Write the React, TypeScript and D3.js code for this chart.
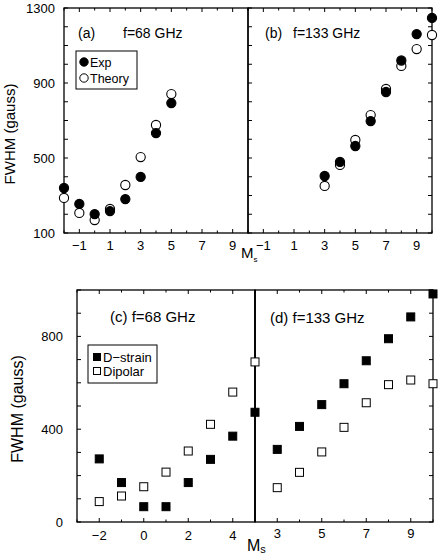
import React from "react";
import * as d3 from "d3";

// top panels (a) f=68 GHz, (b) f=133 GHz
const msA = [-2, -1, 0, 1, 2, 3, 4, 5];
const expA = [340, 255, 201, 217, 281, 399, 633, 793];
const theoryA = [287, 207, 169, 228, 356, 505, 676, 841];
const msB = [3, 4, 5, 6, 7, 8, 9, 10];
const expB = [404, 479, 564, 697, 852, 1020, 1161, 1247];
const theoryB = [351, 463, 596, 729, 868, 991, 1081, 1156];

// bottom panels (c) f=68 GHz, (d) f=133 GHz
const msC = [-2, -1, 0, 1, 2, 3, 4, 5];
const dstrainC = [272, 170, 66, 66, 170, 270, 370, 473];
const dipolarC = [88, 112, 152, 215, 306, 421, 560, 690];
const msD = [3, 4, 5, 6, 7, 8, 9, 10];
const dstrainD = [313, 412, 506, 596, 695, 790, 884, 983];
const dipolarD = [148, 214, 302, 408, 514, 592, 612, 596];

const topYTicks = [100, 500, 900, 1300];
const topXTicks = [-1, 1, 3, 5, 7, 9];
const botYTicks = [0, 400, 800];
const cXTicks = [-2, 0, 2, 4];
const dXTicks = [3, 5, 7, 9];

const FONT = "'Liberation Sans', Arial, Helvetica, sans-serif";

const yTop = d3.scaleLinear().domain([100, 1300]).range([233, 8]);
const xA = d3.scaleLinear().domain([-2, 10]).range([64, 248]);
const xB = d3.scaleLinear().domain([-2, 10]).range([248, 432]);
const yBot = d3.scaleLinear().domain([0, 1000]).range([522, 290]);
const xC = d3.scaleLinear().domain([-3, 5]).range([77, 255]);
const xD = d3.scaleLinear().domain([2, 10]).range([255, 433]);

const fmt = (v: number) => (v < 0 ? "\u2212" + Math.abs(v) : String(v));

// frame + ticks for one panel
const Frame = ({ x, y, xMajor, yStep, leftTicks, rightTicks }: any) => {
  const [x0, x1] = x.range();
  const [y0, y1] = y.range();
  const xs = d3.range(Math.ceil(x.domain()[0]), Math.floor(x.domain()[1]) + 1);
  const ys = d3.range(y.domain()[0], y.domain()[1] + 1, yStep);
  const els: any[] = [];
  xs.forEach((v, i) => {
    const len = xMajor.includes(v) ? 4 : 2.5;
    const px = x(v);
    els.push(<line key={"xb" + i} x1={px} x2={px} y1={y0} y2={y0 - len} />);
    els.push(<line key={"xt" + i} x1={px} x2={px} y1={y1} y2={y1 + len} />);
  });
  ys.forEach((v, i) => {
    const py = y(v);
    if (leftTicks) els.push(<line key={"yl" + i} x1={x0} x2={x0 + 4} y1={py} y2={py} />);
    if (rightTicks) els.push(<line key={"yr" + i} x1={x1} x2={x1 - 4} y1={py} y2={py} />);
  });
  return (
    <g stroke="#000" strokeWidth={1}>
      {els}
      <rect x={x0} y={y1} width={x1 - x0} height={y0 - y1} fill="none" strokeWidth={1.3} />
    </g>
  );
};

const Circles = ({ xs, vals, x, y, filled }: any) => (
  <g>
    {vals.map((v: number, i: number) => (
      <circle key={i} cx={x(xs[i])} cy={y(v)} r={4.6}
        fill={filled ? "#000" : "#fff"} stroke="#000" strokeWidth={1.1} />
    ))}
  </g>
);

const Squares = ({ xs, vals, x, y, filled }: any) => (
  <g>
    {vals.map((v: number, i: number) => (
      <rect key={i} x={x(xs[i]) - 4} y={y(v) - 4} width={8} height={8}
        fill={filled ? "#000" : "#fff"} stroke="#000" strokeWidth={1} />
    ))}
  </g>
);

export default function App() {
  return (
    <svg width={438} height={558} style={{ position: "absolute", left: 0, top: 0, background: "#fff" }}
      fontFamily={FONT}>
      {/* ---- top ---- */}
      <Frame x={xA} y={yTop} xMajor={topXTicks} yStep={100} leftTicks rightTicks={false} />
      <Frame x={xB} y={yTop} xMajor={topXTicks} yStep={100} leftTicks rightTicks />
      {topYTicks.map((t) => (
        <text key={t} x={55} y={yTop(t) + 5} fontSize={13} textAnchor="end">{t}</text>
      ))}
      {topXTicks.map((t) => (
        <g key={t}>
          <text x={xA(t)} y={250} fontSize={13} textAnchor="middle">{fmt(t)}</text>
          <text x={xB(t)} y={250} fontSize={13} textAnchor="middle">{fmt(t)}</text>
        </g>
      ))}
      <text x={241} y={258} fontSize={15}>M<tspan fontSize={8} dy={4}>s</tspan></text>
      <text transform="translate(15,134) rotate(-90)" fontSize={15} textAnchor="middle">FWHM (gauss)</text>

      <Circles xs={msA} vals={theoryA} x={xA} y={yTop} filled={false} />
      <Circles xs={msA} vals={expA} x={xA} y={yTop} filled />
      <Circles xs={msB} vals={theoryB} x={xB} y={yTop} filled={false} />
      <Circles xs={msB} vals={expB} x={xB} y={yTop} filled />

      <text x={78} y={38} fontSize={14}>(a)</text>
      <text x={123} y={38} fontSize={14}>f=68 GHz</text>
      <text x={265} y={38} fontSize={14}>(b)</text>
      <text x={293} y={38} fontSize={14}>f=133 GHz</text>

      <rect x={76} y={51} width={61} height={38} fill="#fff" stroke="#000" strokeWidth={1} />
      <circle cx={84} cy={62} r={4.2} fill="#000" stroke="#000" />
      <text x={90} y={66.5} fontSize={12.5}>Exp</text>
      <circle cx={84} cy={78} r={4.2} fill="#fff" stroke="#000" />
      <text x={90} y={82.5} fontSize={12.5}>Theory</text>

      {/* ---- bottom ---- */}
      <Frame x={xC} y={yBot} xMajor={cXTicks} yStep={100} leftTicks rightTicks={false} />
      <Frame x={xD} y={yBot} xMajor={dXTicks} yStep={100} leftTicks={false} rightTicks />
      <line x1={255} x2={255} y1={290} y2={522} stroke="#000" strokeWidth={1.6} />
      {botYTicks.map((t) => (
        <text key={t} x={63} y={yBot(t) + 5} fontSize={13} textAnchor="end">{t}</text>
      ))}
      {cXTicks.map((t) => (
        <text key={t} x={xC(t)} y={540} fontSize={13} textAnchor="middle">{fmt(t)}</text>
      ))}
      {dXTicks.map((t) => (
        <text key={t} x={xD(t)} y={538} fontSize={13} textAnchor="middle">{fmt(t)}</text>
      ))}
      <text x={247} y={551} fontSize={16}>M<tspan fontSize={11} dy={2}>s</tspan></text>
      <text transform="translate(23,409) rotate(-90)" fontSize={16} textAnchor="middle">FWHM (gauss)</text>

      <Squares xs={msC} vals={dipolarC} x={xC} y={yBot} filled={false} />
      <Squares xs={msC} vals={dstrainC} x={xC} y={yBot} filled />
      <Squares xs={msD} vals={dipolarD} x={xD} y={yBot} filled={false} />
      <Squares xs={msD} vals={dstrainD} x={xD} y={yBot} filled />

      <text x={110} y={322} fontSize={15}>(c) f=68 GHz</text>
      <text x={270} y={323} fontSize={15}>(d)  f=133 GHz</text>

      <rect x={88} y={345} width={69} height={38} fill="#fff" stroke="#000" strokeWidth={1} />
      <rect x={93.5} y={353.5} width={7} height={7} fill="#000" stroke="#000" />
      <text x={103} y={362} fontSize={13}>D{"\u2212"}strain</text>
      <rect x={93.5} y={367.5} width={7} height={7} fill="#fff" stroke="#000" />
      <text x={103} y={376} fontSize={13}>Dipolar</text>
    </svg>
  );
}
